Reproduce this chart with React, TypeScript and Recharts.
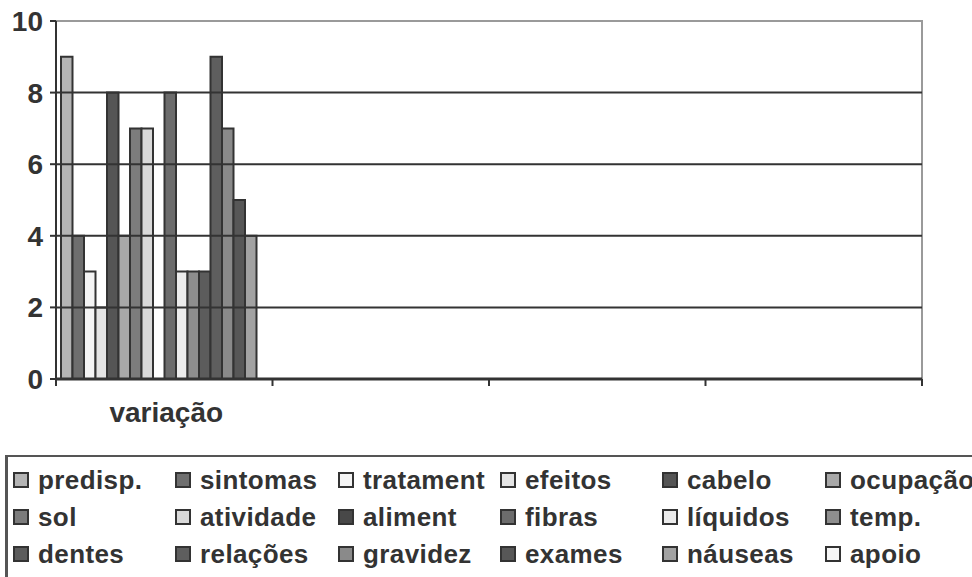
import { BarChart, Bar, XAxis, YAxis, ReferenceLine, ReferenceArea } from "recharts";

const categories = ["variação", "", "", ""];

const seriesNames = [
    "predisp.", "sintomas", "tratament", "efeitos", "cabelo", "ocupação",
    "sol", "atividade", "aliment", "fibras", "líquidos", "temp.",
    "dentes", "relações", "gravidez", "exames", "náuseas", "apoio",
];

const seriesValues = [9, 4, 3, 2, 8, 4, 7, 7, 0, 8, 3, 3, 3, 9, 7, 5, 4, 0];

const seriesColors = [
    "#b4b4b4", "#6e6e6e", "#f4f4f4", "#e4e4e4", "#555555", "#a8a8a8",
    "#7c7c7c", "#dadada", "#484848", "#6c6c6c", "#ececec", "#8e8e8e",
    "#5c5c5c", "#5e5e5e", "#8a8a8a", "#575757", "#a2a2a2", "#f6f6f6",
];

const yTicks = [0, 2, 4, 6, 8, 10];
const gridValues = [2, 4, 6, 8];

const data = categories.map((name, i) => {
    const row: Record<string, string | number | null> = { name };
    seriesNames.forEach((_, j) => {
        row[`s${j}`] = i === 0 ? seriesValues[j] : null;
    });
    return row;
});

// body margin is reset below, so chart coords = page coords
const W = 972;
const H = 577;
const MARGIN = { top: 21, right: 50, bottom: 168, left: 0 };
const Y_WIDTH = 56;
const BAND = (W - MARGIN.left - MARGIN.right - Y_WIDTH) / categories.length;
const INK = "#333333";
const FONT = "'Liberation Sans', Arial, sans-serif";

function CategoryTick(props: any) {
    const { x, y, payload, index } = props;
    const left = x - BAND / 2;
    const right = x + BAND / 2;
    return (
        <g>
            <line x1={left} y1={y} x2={left} y2={y + 7} stroke={INK} strokeWidth={2} />
            {index === categories.length - 1 && (
                <line x1={right} y1={y} x2={right} y2={y + 7} stroke={INK} strokeWidth={2} />
            )}
            <text
                x={x + 2}
                y={y + 43}
                textAnchor="middle"
                fontFamily={FONT}
                fontWeight="bold"
                fontSize={28}
                fill={INK}
            >
                {payload.value}
            </text>
        </g>
    );
}

function LegendBox() {
    const cols = [13, 175, 338, 500, 662, 825];
    const rows = [480, 517, 554];
    const boxLeft = 5;
    const boxTop = 455;
    return (
        <div
            style={{
                position: "absolute",
                left: boxLeft,
                top: boxTop,
                width: W - boxLeft + 20,
                height: 160,
                borderTop: "2px solid #555",
                borderLeft: "3px solid #555",
                boxSizing: "border-box",
            }}
        >
            {seriesNames.map((name, i) => {
                const c = i % 6;
                const r = Math.floor(i / 6);
                return (
                    <div
                        key={name}
                        style={{
                            position: "absolute",
                            left: cols[c] - boxLeft - 3,
                            top: rows[r] - boxTop - 2 - 15,
                            height: 30,
                            display: "flex",
                            alignItems: "center",
                            whiteSpace: "nowrap",
                            fontFamily: FONT,
                            fontWeight: "bold",
                            fontSize: 26,
                            letterSpacing: 0.4,
                            color: INK,
                        }}
                    >
                        <span
                            style={{
                                display: "inline-block",
                                width: 16,
                                height: 16,
                                boxSizing: "border-box",
                                border: `2px solid ${INK}`,
                                background: seriesColors[i],
                                marginRight: 9,
                            }}
                        />
                        {name}
                    </div>
                );
            })}
        </div>
    );
}

export default function App() {
    return (
        <div style={{ position: "relative", width: W, height: H, overflow: "hidden", background: "#fff" }}>
            <style>{"html, body { margin: 0; padding: 0; overflow: hidden; }"}</style>
            <BarChart
                width={W}
                height={H}
                data={data}
                margin={MARGIN}
                barSize={11.5}
                barGap={0}
            >
                <ReferenceArea y1={0} y2={10} fill="none" stroke="#9a9a9a" strokeWidth={2} />
                {gridValues.map((v) => (
                    <ReferenceLine key={v} y={v} stroke={INK} strokeWidth={2} />
                ))}
                <XAxis
                    dataKey="name"
                    interval={0}
                    height={30}
                    tickSize={0}
                    tickMargin={0}
                    tickLine={false}
                    axisLine={{ stroke: INK, strokeWidth: 3 }}
                    tick={<CategoryTick />}
                />
                <YAxis
                    width={Y_WIDTH}
                    domain={[0, 10]}
                    ticks={yTicks}
                    interval={0}
                    tickSize={6}
                    tickMargin={7}
                    axisLine={{ stroke: INK, strokeWidth: 2 }}
                    tickLine={{ stroke: INK, strokeWidth: 2 }}
                    tick={{ fontFamily: FONT, fontWeight: "bold", fontSize: 28, fill: INK }}
                />
                {seriesNames.map((name, i) => (
                    <Bar
                        key={name}
                        dataKey={`s${i}`}
                        name={name}
                        fill={seriesColors[i]}
                        stroke={INK}
                        strokeWidth={2}
                        isAnimationActive={false}
                    />
                ))}
            </BarChart>
            <LegendBox />
        </div>
    );
}
